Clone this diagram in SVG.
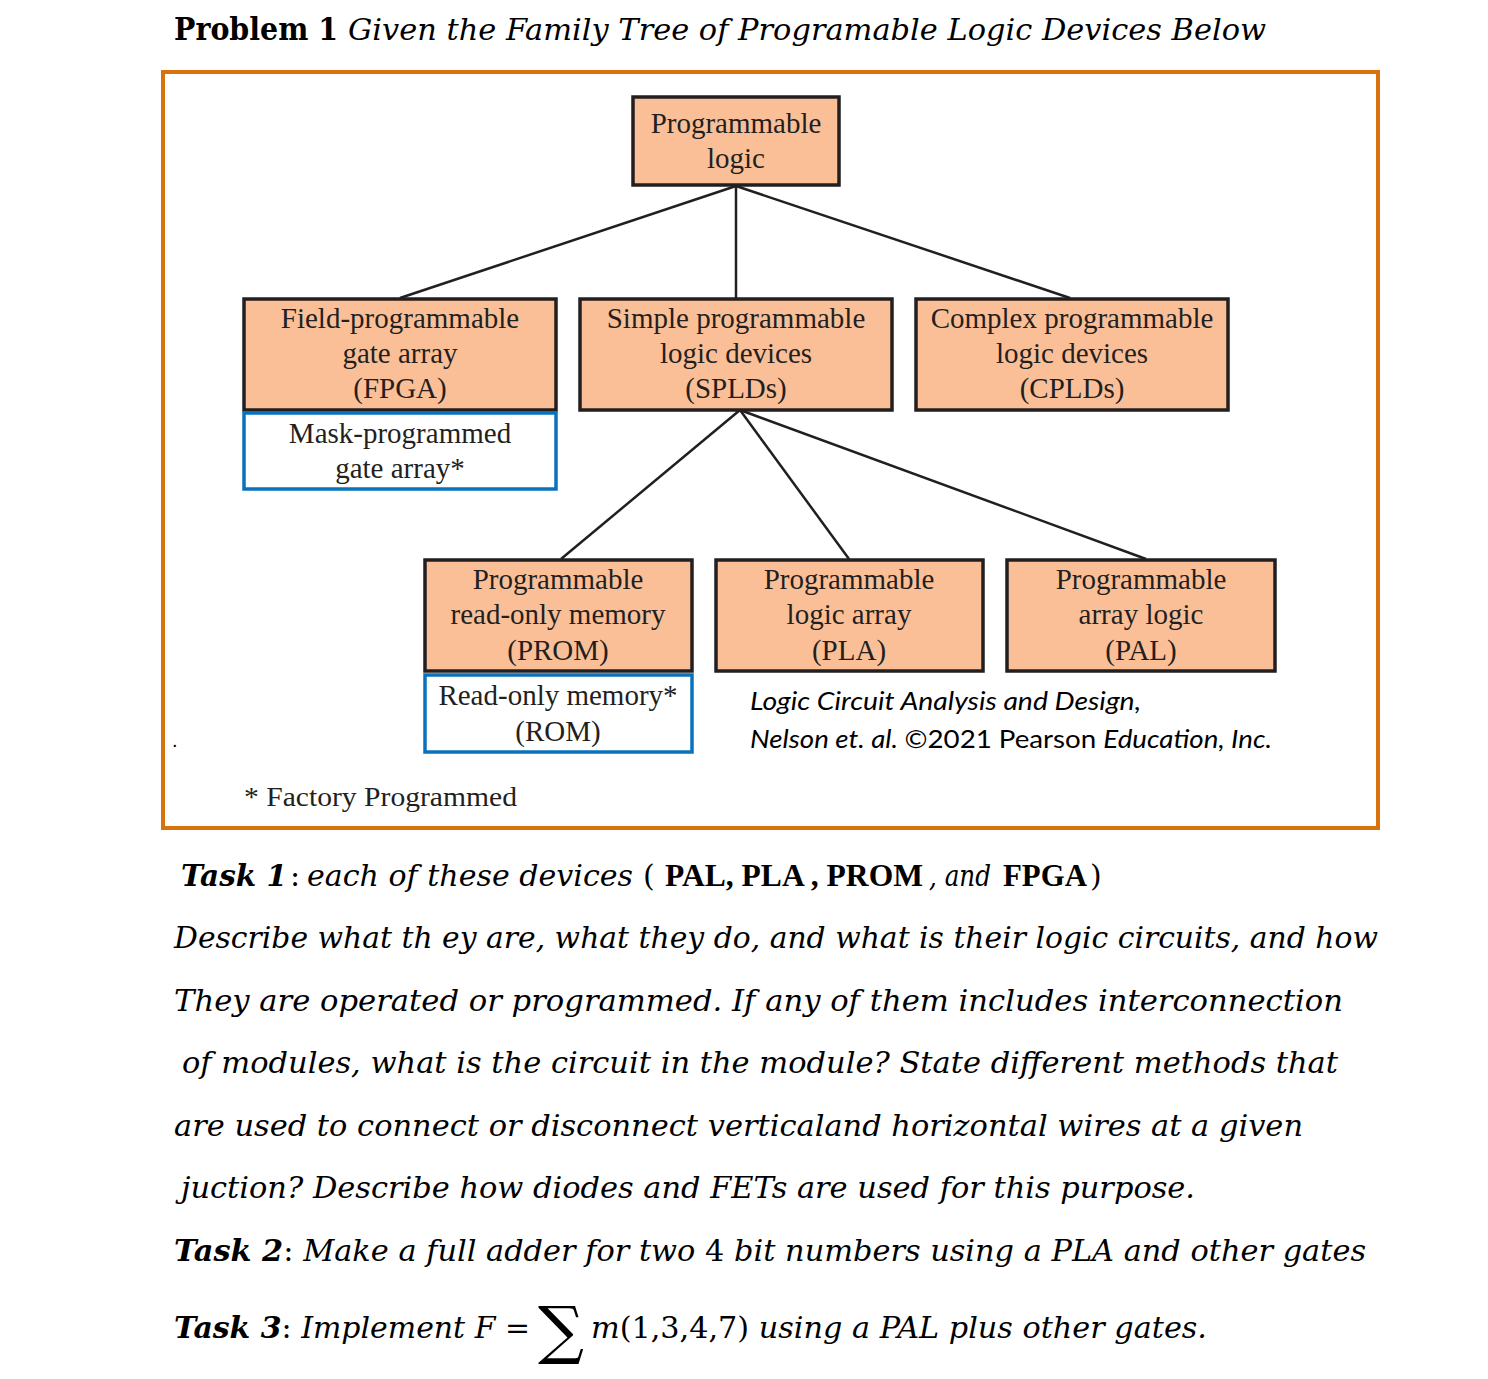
<svg xmlns="http://www.w3.org/2000/svg" width="1488" height="1379" viewBox="0 0 1488 1379">
<style>
.bx{fill:#fbbf98;stroke:#231f20;stroke-width:3.5}
.wb{fill:#fff;stroke:#0a72bd;stroke-width:3.5}
.bt{font-family:"Liberation Serif",serif;font-size:29px;fill:#231f20;text-anchor:middle}
.ln{stroke:#231f20;stroke-width:2.5;fill:none}
.tk{font-family:"DejaVu Serif",serif;font-size:30px;font-style:italic;fill:#000}
.b{font-weight:bold}
.n{font-style:normal}
.lb{font-family:"Liberation Serif",serif;font-size:31px;font-weight:bold;fill:#000}
.ct{font-family:"Lato","Liberation Sans",sans-serif;font-size:25px;font-style:italic;fill:#000}
</style>
<rect width="1488" height="1379" fill="#fff"/>
<text x="174" y="40" font-family="DejaVu Serif,serif" font-size="31" font-weight="bold" fill="#000" textLength="164" lengthAdjust="spacingAndGlyphs">Problem 1</text>
<text x="348" y="40" class="tk" font-size="31" textLength="918" lengthAdjust="spacingAndGlyphs">Given the Family Tree of Programable Logic Devices Below</text>
<rect x="163" y="72" width="1215" height="756" fill="none" stroke="#d8720e" stroke-width="4"/>
<g id="connectors">
<line class="ln" x1="736" y1="186" x2="400" y2="298"/>
<line class="ln" x1="736" y1="186" x2="736" y2="298"/>
<line class="ln" x1="736" y1="186" x2="1070" y2="298"/>
<line class="ln" x1="740" y1="410" x2="561" y2="559"/>
<line class="ln" x1="740" y1="410" x2="849" y2="559"/>
<line class="ln" x1="740" y1="410" x2="1146" y2="559"/>
</g>
<g id="root"><rect class="bx" x="633" y="97" width="206" height="88"/>
<text class="bt" x="736" y="133">Programmable</text><text class="bt" x="736" y="168">logic</text></g>
<g id="fpga"><rect class="bx" x="244" y="299" width="312" height="111"/>
<text class="bt" x="400" y="328">Field-programmable</text><text class="bt" x="400" y="363">gate array</text><text class="bt" x="400" y="398">(FPGA)</text></g>
<g id="mpga"><rect class="wb" x="244" y="413" width="312" height="76"/>
<text class="bt" x="400" y="443">Mask-programmed</text><text class="bt" x="400" y="478">gate array*</text></g>
<g id="spld"><rect class="bx" x="580" y="299" width="312" height="111"/>
<text class="bt" x="736" y="328">Simple programmable</text><text class="bt" x="736" y="363">logic devices</text><text class="bt" x="736" y="398">(SPLDs)</text></g>
<g id="cpld"><rect class="bx" x="916" y="299" width="312" height="111"/>
<text class="bt" x="1072" y="328">Complex programmable</text><text class="bt" x="1072" y="363">logic devices</text><text class="bt" x="1072" y="398">(CPLDs)</text></g>
<g id="prom"><rect class="bx" x="425" y="560" width="267" height="111"/>
<text class="bt" x="558" y="589">Programmable</text><text class="bt" x="558" y="624">read-only memory</text><text class="bt" x="558" y="660">(PROM)</text></g>
<g id="rom"><rect class="wb" x="425" y="675" width="267" height="77"/>
<text class="bt" x="558" y="705">Read-only memory*</text><text class="bt" x="558" y="741">(ROM)</text></g>
<g id="pla"><rect class="bx" x="716" y="560" width="267" height="111"/>
<text class="bt" x="849" y="589">Programmable</text><text class="bt" x="849" y="624">logic array</text><text class="bt" x="849" y="660">(PLA)</text></g>
<g id="pal"><rect class="bx" x="1007" y="560" width="268" height="111"/>
<text class="bt" x="1141" y="589">Programmable</text><text class="bt" x="1141" y="624">array logic</text><text class="bt" x="1141" y="660">(PAL)</text></g>
<text x="244" y="806" font-family="Liberation Serif,serif" font-size="28" fill="#231f20" textLength="273" lengthAdjust="spacingAndGlyphs">* Factory Programmed</text>
<text x="172" y="747" font-family="Liberation Sans,sans-serif" font-size="20" fill="#000">.</text>
<text class="ct" x="750" y="710" textLength="391" lengthAdjust="spacingAndGlyphs">Logic Circuit Analysis and Design,</text>
<text class="ct" x="750" y="748" textLength="522" lengthAdjust="spacingAndGlyphs">Nelson et. al. <tspan class="n">©2021 Pearson </tspan>Education, Inc.</text>
<text class="tk b" x="181" y="886" textLength="106" lengthAdjust="spacingAndGlyphs">Task 1</text>
<text class="tk n" x="290" y="886">:</text>
<text class="tk" x="307" y="886" textLength="326" lengthAdjust="spacingAndGlyphs">each of these devices</text>
<text class="tk n" x="643" y="886">(</text>
<text class="lb" x="665" y="886" textLength="258" lengthAdjust="spacingAndGlyphs">PAL, PLA , PROM</text>
<text class="tk" x="929" y="886" textLength="62" lengthAdjust="spacingAndGlyphs">, and</text>
<text class="lb" x="1003" y="886" textLength="84" lengthAdjust="spacingAndGlyphs">FPGA</text>
<text class="tk n" x="1090" y="886">)</text>
<text class="tk" x="174" y="948" textLength="1204" lengthAdjust="spacingAndGlyphs">Describe what th ey are, what they do, and what is their logic circuits, and how</text>
<text class="tk" x="174" y="1011" textLength="1169" lengthAdjust="spacingAndGlyphs">They are operated or programmed.  If any of them includes interconnection</text>
<text class="tk" x="182" y="1073" textLength="1156" lengthAdjust="spacingAndGlyphs">of modules, what is the circuit in the module? State different methods that</text>
<text class="tk" x="174" y="1136" textLength="1129" lengthAdjust="spacingAndGlyphs">are used to connect or disconnect verticaland horizontal wires at a given</text>
<text class="tk" x="181" y="1198" textLength="1014" lengthAdjust="spacingAndGlyphs">juction?  Describe how diodes and FETs are used for this purpose.</text>
<text class="tk" x="174" y="1261" textLength="1192" lengthAdjust="spacingAndGlyphs"><tspan class="b">Task 2</tspan><tspan class="n">: </tspan>Make a full adder for two <tspan class="n">4</tspan> bit numbers using a PLA and other gates</text>
<text class="tk" x="174" y="1338" textLength="356" lengthAdjust="spacingAndGlyphs"><tspan class="b">Task 3</tspan><tspan class="n">: </tspan>Implement F <tspan class="n">=</tspan></text>
<text x="538" y="1352" font-family="DejaVu Serif,serif" font-size="64" fill="#000" textLength="46" lengthAdjust="spacingAndGlyphs">∑</text>
<text class="tk" x="591" y="1338" textLength="616" lengthAdjust="spacingAndGlyphs">m<tspan class="n">(1,3,4,7)</tspan>  using a PAL plus other gates.</text>
</svg>
